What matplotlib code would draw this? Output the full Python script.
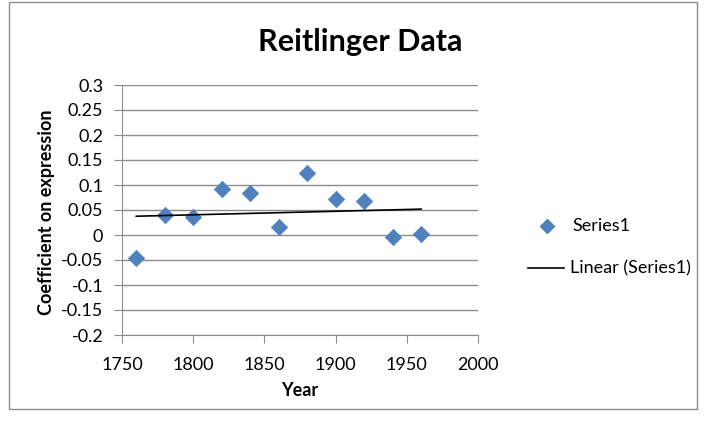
import numpy as np
from matplotlib import pyplot as plt
from matplotlib.patches import Rectangle
from matplotlib.lines import Line2D

plt.rcParams["font.family"] = ["Lato", "DejaVu Sans"]

# data
years = [1760, 1780, 1800, 1820, 1840, 1860, 1880, 1900, 1920, 1940, 1960]
coef = [-0.045, 0.040, 0.037, 0.093, 0.084, 0.017, 0.125, 0.073, 0.069, -0.004, 0.002]
x_ticks = [1750, 1800, 1850, 1900, 1950, 2000]
y_ticks = [-0.2, -0.15, -0.1, -0.05, 0, 0.05, 0.1, 0.15, 0.2, 0.25, 0.3]

W, H = 709, 425
FS = 13
fig = plt.figure(figsize=(W / 100, H / 100), dpi=100, facecolor="white")

# chart border
fig.patches.append(Rectangle((9 / W, 1 - 409 / H), (697 - 9) / W, (409 - 2) / H,
                             transform=fig.transFigure, fill=False,
                             edgecolor="#8c8c8c", linewidth=1))

left, right, top, bottom = 122, 478, 85, 335
ax = fig.add_axes([left / W, 1 - bottom / H, (right - left) / W, (bottom - top) / H])

ax.set_xlim(1750, 2000)
ax.set_ylim(-0.2, 0.3)
ax.set_xticks(x_ticks)
ax.set_yticks(y_ticks)
ax.set_yticklabels([f"{v:g}" for v in y_ticks])
ax.grid(axis="y", color="#8c8c8c", linewidth=1)
ax.set_axisbelow(True)
for s in ["top", "right"]:
    ax.spines[s].set_visible(False)
for s in ["left", "bottom"]:
    ax.spines[s].set_color("#8c8c8c")
ax.tick_params(colors="#8c8c8c", labelcolor="black", labelsize=FS, length=5.5,
               direction="out")
ax.tick_params(axis="y", pad=8)
ax.tick_params(axis="x", pad=10)

ax.scatter(years, coef, marker="D", s=70, color="#4f81bd", zorder=3,
           edgecolors="#4f81bd", linewidths=0.5)

# linear trendline
k, b = np.polyfit(years, coef, 1)
xs = np.array([years[0], years[-1]])
ax.plot(xs, k * xs + b, color="black", linewidth=1.2, zorder=4)

fig.text(300 / W, 1 - 390 / H, "Year", fontsize=FS, fontweight="bold",
         ha="center", va="center")
fig.text(47 / W, 1 - 212 / H, "Coefficient on expression", fontsize=FS,
         fontweight="bold", rotation=90, ha="center", va="center")

fig.text(360 / W, 1 - 42 / H, "Reitlinger Data", fontsize=22, fontweight="bold",
         ha="center", va="center")

# legend
fig.lines.append(Line2D([547 / W], [1 - 226 / H], marker="D", markersize=7,
                        color="#4f81bd", linestyle="none", transform=fig.transFigure))
fig.text(572 / W, 1 - 226 / H, "Series1", fontsize=FS, va="center")
fig.lines.append(Line2D([528 / W, 564 / W], [1 - 268 / H, 1 - 268 / H],
                        color="black", linewidth=1.2, transform=fig.transFigure))
fig.text(570 / W, 1 - 268 / H, "Linear (Series1)", fontsize=FS, va="center")

fig.savefig("out.png", dpi=100)
